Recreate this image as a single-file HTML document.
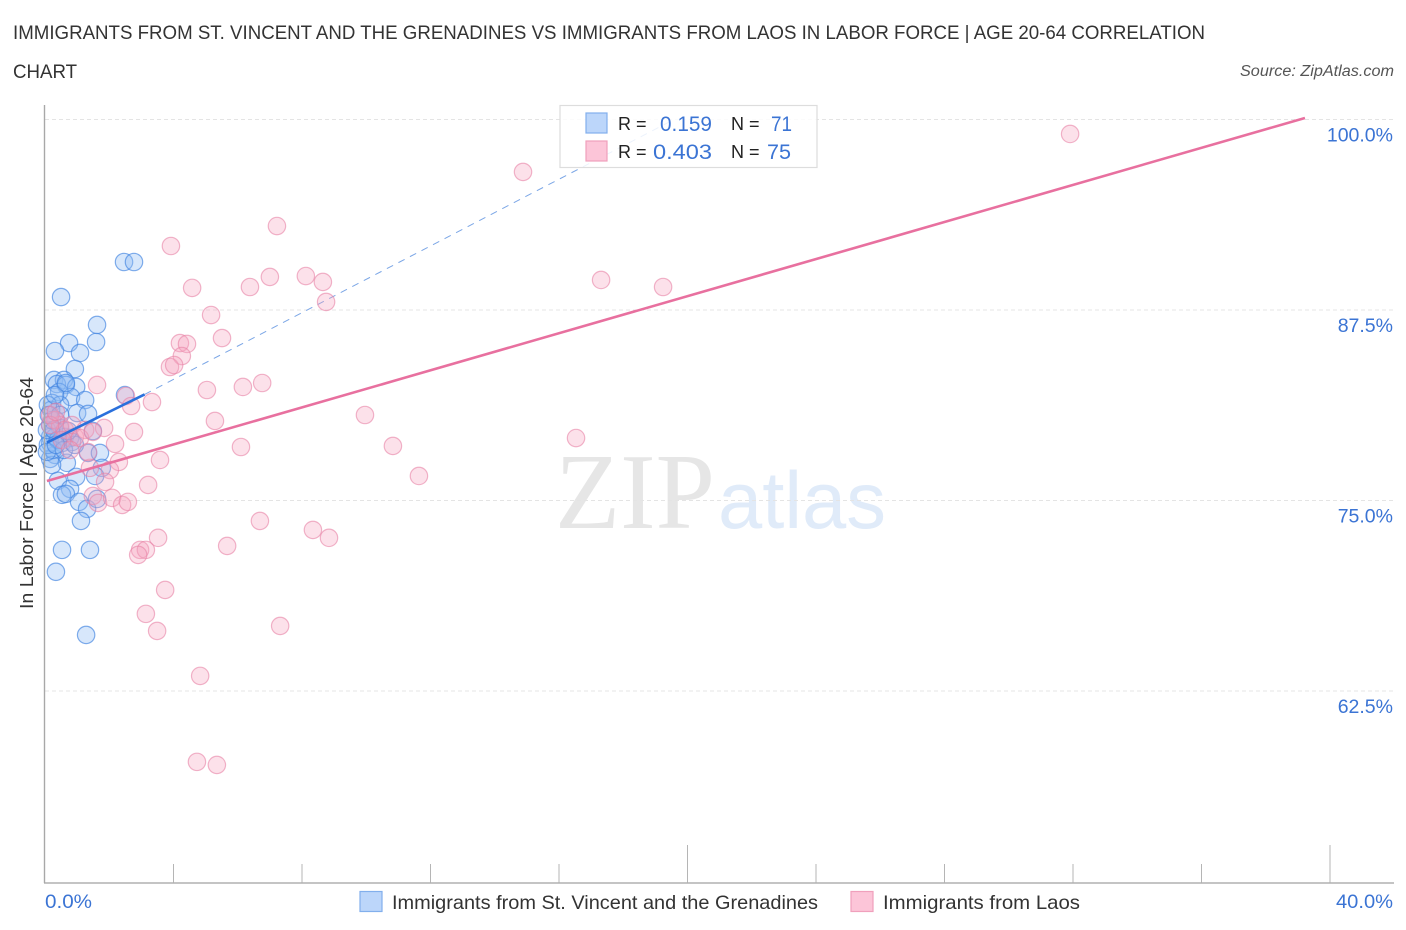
<!DOCTYPE html>
<html lang="en">
<head>
<meta charset="utf-8">
<title>Labor force correlation chart</title>
<style>
html,body{margin:0;padding:0;background:#fff;}
svg{display:block;font-family:"Liberation Sans",sans-serif;}
</style>
</head>
<body>
<svg id="chart" width="1406" height="930" viewBox="0 0 1406 930" xmlns="http://www.w3.org/2000/svg">
  <g fill="#333" font-size="19.5">
    <text x="13" y="39" textLength="1192" lengthAdjust="spacingAndGlyphs">IMMIGRANTS FROM ST. VINCENT AND THE GRENADINES VS IMMIGRANTS FROM LAOS IN LABOR FORCE | AGE 20-64 CORRELATION</text>
    <text x="13" y="78" textLength="64" lengthAdjust="spacingAndGlyphs">CHART</text>
  </g>
  <text x="1394" y="76" text-anchor="end" font-size="15.5" font-style="italic" fill="#555" textLength="154" lengthAdjust="spacingAndGlyphs">Source: ZipAtlas.com</text>

  <g>
    <text x="555" y="528" font-family="'Liberation Serif',serif" font-size="108" fill="#e6e6e6" textLength="160" lengthAdjust="spacingAndGlyphs">ZIP</text>
    <text x="718" y="528" font-size="81" fill="#e0ebf9" textLength="168" lengthAdjust="spacingAndGlyphs">atlas</text>
  </g>

  <g id="grid"></g>
  <g id="trends-back"></g>
  <g id="points"></g>
  <g id="trends-front"></g>
  <g id="axes"></g>

  <text transform="translate(33,609) rotate(-90)" font-size="18.5" fill="#333" textLength="232" lengthAdjust="spacingAndGlyphs">In Labor Force | Age 20-64</text>

  <g>
    <rect x="560" y="105.5" width="257" height="62" fill="#fff" fill-opacity="0.86" stroke="#ddd" stroke-width="1.2"/>
    <rect x="586" y="113" width="21" height="20" fill="#bcd6fa" stroke="#82afec" stroke-width="1.2"/>
    <rect x="586" y="141" width="21" height="20" fill="#fcc5d8" stroke="#f0a0bc" stroke-width="1.2"/>
    <text x="618" y="130" font-size="18" fill="#222">R =</text>
    <text x="660" y="131" font-size="21" fill="#3b74d4" textLength="52" lengthAdjust="spacingAndGlyphs">0.159</text>
    <text x="731" y="130" font-size="18" fill="#222">N =</text>
    <text x="771" y="131" font-size="21" fill="#3b74d4" textLength="21" lengthAdjust="spacingAndGlyphs">71</text>
    <text x="618" y="158" font-size="18" fill="#222">R =</text>
    <text x="653" y="159" font-size="21" fill="#3b74d4" textLength="59" lengthAdjust="spacingAndGlyphs">0.403</text>
    <text x="731" y="158" font-size="18" fill="#222">N =</text>
    <text x="767" y="159" font-size="21" fill="#3b74d4" textLength="24" lengthAdjust="spacingAndGlyphs">75</text>
  </g>

  <g>
    <rect x="360" y="891.5" width="22" height="20" fill="#bcd6fa" stroke="#82afec" stroke-width="1.2"/>
    <text x="392" y="909" font-size="19.5" fill="#333" textLength="426" lengthAdjust="spacingAndGlyphs">Immigrants from St. Vincent and the Grenadines</text>
    <rect x="851" y="891.5" width="22" height="20" fill="#fcc5d8" stroke="#f0a0bc" stroke-width="1.2"/>
    <text x="883" y="909" font-size="19.5" fill="#333" textLength="197" lengthAdjust="spacingAndGlyphs">Immigrants from Laos</text>
  </g>
</svg>

<script>
const yTicks = [100, 87.5, 75, 62.5];
const yTickLabels = ['100.0%', '87.5%', '75.0%', '62.5%'];
const xTicks = [0, 4, 8, 12, 16, 20, 24, 28, 32, 36, 40];
const xMajorTicks = [20, 40];
const xEndLabels = ['0.0%', '40.0%'];

const blueX = [2.46,2.77,0.50,1.62,1.59,0.75,0.31,1.09,0.93,0.28,0.59,0.37,0.65,0.97,2.49,0.44,0.81,1.25,0.22,0.47,0.19,1.00,1.34,0.34,0.16,0.47,1.49,0.16,0.31,0.62,0.78,0.16,0.53,0.84,1.34,1.71,0.31,0.16,0.68,0.22,1.77,1.56,0.40,0.97,0.78,0.53,0.65,1.06,1.31,1.12,0.53,1.40,0.34,1.28,1.62,0.25,0.09,0.06,0.22,0.09,0.40,0.59,0.93,0.31,0.65,0.12,0.28,0.47,0.72,0.06,0.34];
const blueY = [90.65,90.65,88.35,86.52,85.40,85.33,84.81,84.68,83.63,82.91,82.91,82.64,82.58,82.45,81.92,82.12,81.79,81.59,81.40,81.27,80.94,80.74,80.68,80.28,79.95,79.76,79.56,79.17,79.17,79.17,79.10,78.77,78.77,78.84,78.12,78.12,77.99,77.73,77.47,77.33,77.14,76.61,76.29,76.55,75.76,75.37,75.43,74.91,74.45,73.66,71.76,71.76,70.32,66.18,75.10,78.32,78.65,79.63,80.28,81.27,78.97,78.32,78.65,81.92,82.71,80.61,79.63,80.61,79.56,78.19,78.65];

const pinkX = [31.91,14.88,7.22,3.92,7.00,8.12,8.65,17.31,19.24,4.58,6.38,8.75,5.17,5.51,4.20,4.42,4.26,3.89,4.02,1.62,5.04,6.16,6.76,2.52,3.33,2.68,9.96,5.29,16.53,2.77,1.84,10.83,6.10,2.18,3.58,11.64,2.30,2.02,1.40,1.87,3.21,1.49,1.65,2.09,2.40,2.58,6.69,8.34,8.84,3.52,5.67,2.96,3.14,2.90,3.74,3.14,3.49,7.32,4.83,4.73,5.35,0.31,0.47,0.62,0.16,0.93,0.84,1.25,1.09,1.49,0.16,0.34,0.53,1.34,0.78];
const pinkY = [99.05,96.56,93.01,91.70,89.67,89.73,89.34,89.47,89.01,88.95,89.01,88.03,87.17,85.66,85.33,85.27,84.48,83.76,83.89,82.58,82.25,82.45,82.71,81.86,81.46,81.20,80.61,80.22,79.10,79.50,79.76,78.58,78.51,78.71,77.66,76.61,77.53,77.00,77.14,76.22,76.02,75.30,74.84,75.17,74.71,74.91,73.66,73.07,72.55,72.55,72.02,71.76,71.76,71.43,69.13,67.56,66.44,66.77,63.49,57.85,57.65,80.28,79.95,79.63,80.61,79.17,79.95,79.63,79.10,79.50,79.95,80.81,78.97,78.18,78.32];

const blueTrendSolidX = [0.06, 3.10];
const blueTrendSolidY = [78.80, 81.96];
const blueTrendDashX = [3.10, 19.58];
const blueTrendDashY = [81.96, 100];
const pinkTrendX = [0.06, 39.22];
const pinkTrendY = [76.28, 100.1];

const NS = 'http://www.w3.org/2000/svg';
function xScale(v) { return 45 + v * 32.125; }
function yScale(v) { return 119.5 + (100 - v) * 15.24; }
function make(tag, attrs, parent) {
  const el = document.createElementNS(NS, tag);
  for (const k in attrs) el.setAttribute(k, attrs[k]);
  parent.appendChild(el);
  return el;
}

const grid = document.getElementById('grid');
const axes = document.getElementById('axes');
const points = document.getElementById('points');
const back = document.getElementById('trends-back');
const front = document.getElementById('trends-front');

yTicks.forEach(function (t, i) {
  const g = make('line', {x1: 45, x2: 1393, y1: yScale(t), y2: yScale(t), stroke: '#e4e4e4', 'stroke-width': 1, 'stroke-dasharray': '4 3'}, grid);
  
  
  const l = make('text', {x: 1393, y: yScale(t) + 22, 'text-anchor': 'end', 'font-size': 19.5, fill: '#3b74d4'}, axes);
  l.textContent = yTickLabels[i];
  
  
});

xTicks.forEach(function (t) {
  if (t === 0) return;
  const major = xMajorTicks.indexOf(t) >= 0;
  const k = make('line', {x1: xScale(t), x2: xScale(t), y1: 883, y2: major ? 845 : 864, stroke: '#b5b5b5', 'stroke-width': 1}, axes);
  
  
});

const xAxisLine = make('line', {x1: 44, x2: 1394, y1: 883, y2: 883, stroke: '#b0b0b0', 'stroke-width': 1.4}, axes);


const yAxisLine = make('line', {x1: 44.5, x2: 44.5, y1: 105, y2: 883, stroke: '#a8a8a8', 'stroke-width': 1.4}, axes);



const xLabelMin = make('text', {x: 45, y: 908, 'font-size': 19.5, fill: '#3b74d4', textLength: 47, lengthAdjust: 'spacingAndGlyphs'}, axes);
xLabelMin.textContent = xEndLabels[0];


const xLabelMax = make('text', {x: 1336, y: 908, 'font-size': 19.5, fill: '#3b74d4', textLength: 57, lengthAdjust: 'spacingAndGlyphs'}, axes);
xLabelMax.textContent = xEndLabels[1];



blueX.forEach(function (x, i) {
  const c = make('circle', {cx: xScale(x), cy: yScale(blueY[i]), r: 8.7, fill: '#8fbdf5', 'fill-opacity': 0.36, stroke: '#3f82e0', 'stroke-opacity': 0.65, 'stroke-width': 1.2}, points);
  
  
});
pinkX.forEach(function (x, i) {
  const c = make('circle', {cx: xScale(x), cy: yScale(pinkY[i]), r: 8.7, fill: '#f7a3bf', 'fill-opacity': 0.33, stroke: '#e77fa3', 'stroke-opacity': 0.58, 'stroke-width': 1.2}, points);
  
  
});

const blueDash = make('line', {x1: xScale(blueTrendDashX[0]), y1: yScale(blueTrendDashY[0]), x2: xScale(blueTrendDashX[1]), y2: yScale(blueTrendDashY[1]), stroke: '#7ba6e6', 'stroke-width': 1, 'stroke-dasharray': '7 6'}, back);


const blueSolid = make('line', {x1: xScale(blueTrendSolidX[0]), y1: yScale(blueTrendSolidY[0]), x2: xScale(blueTrendSolidX[1]), y2: yScale(blueTrendSolidY[1]), stroke: '#2a70dc', 'stroke-width': 2.6}, front);


const pinkSolid = make('line', {x1: xScale(pinkTrendX[0]), y1: yScale(pinkTrendY[0]), x2: xScale(pinkTrendX[1]), y2: yScale(pinkTrendY[1]), stroke: '#e8709f', 'stroke-width': 2.6}, front);


</script>
</body>
</html>
